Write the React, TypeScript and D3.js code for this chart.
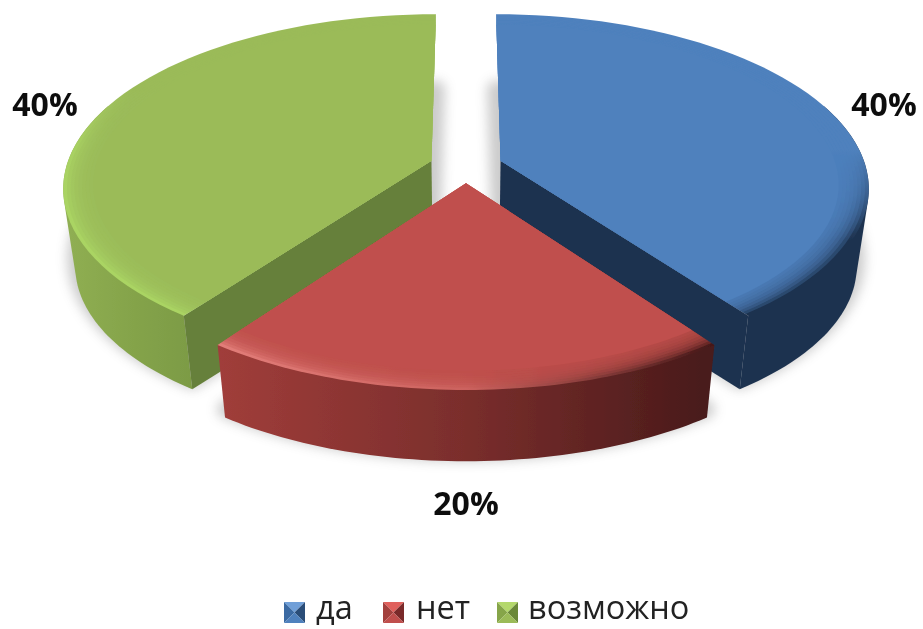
import React from "react";
import * as d3 from "d3";

const categories = ["да", "нет", "возможно"];
const values = [40, 20, 40];
const percentLabels = ["40%", "20%", "40%"];
const topColors = ["#4f81bd", "#c0504d", "#9bbb59"];
const sideColors = ["#1e3350", "#7a2e2c", "#66803a"];
const wallStops = [
  ["#1e3350", "#1e3350", "#1e3350"],
  ["#a03d3a", "#7a2e2c", "#481a1a"],
  ["#8fae52", "#84a34a", "#7b9a44"],
];
const rimStops = [
  ["#4f81bd", "#3a608f", "#1e3350"],
  ["#e27d79", "#cc625e", "#451818"],
  ["#9bbb59", "#a8d062", "#aad463"],
];
const legendShades = [
  ["#6f9fd8", "#3a6aa3", "#2a4d78", "#4f81bd"],
  ["#e0605c", "#a33f3c", "#7a2b29", "#c0504d"],
  ["#b4d86c", "#86a548", "#6b8838", "#9bbb59"],
];
const legendX = [284, 383, 497];
const legendTextX = [316, 416, 528];
const rimGradients = [
  { x1: 0, x2: 0, y1: 150, y2: 240 },
  { x1: 220, x2: 715, y1: 0, y2: 0 },
  { x1: 0, x2: 0, y1: 90, y2: 200 },
];
const wallGradients = [
  { x1: 70, x2: 200 },
  { x1: 220, x2: 710 },
  { x1: 70, x2: 200 },
];
// Parts of each slice's outer edge that face the viewer, in degrees clockwise from the top.
const wallFrom = [70, 144, 216];
const wallTo = [144, 216, 290];

const W = 923, H = 629;
const CX = 466, CY = 166, A = 365, B = 170, K = 0.15;
const EXPLODE = 0.1, DEPTH = 78, BASE_SCALE = 0.97;

type P = [number, number];
const project = (X: number, Y: number, s = 1, d = 0): P => {
  const den = 1 - K * Y;
  return [CX + (s * A * X) / den, CY + d + (s * B * Y) / den];
};

const pieGen = d3.pie<number>().sort(null).value((v) => v);
const line = d3.line<P>();
const rad = (deg: number) => (deg * Math.PI) / 180;

function App() {
  const arcs = pieGen(values);
  const geom = arcs.map((a, i) => {
    const mid = (a.startAngle + a.endAngle) / 2;
    const ex = EXPLODE * Math.sin(mid), ey = -EXPLODE * Math.cos(mid);
    const sweep = (from: number, to: number) => d3.range(0, 61).map((j) => from + ((to - from) * j) / 60);
    const thetas = sweep(a.startAngle, a.endAngle);
    const wallThetas = sweep(rad(wallFrom[i]), rad(wallTo[i]));
    const rimAt = (ts: number[], r: number, s = 1, d = 0) =>
      ts.map((t) => project(ex + r * Math.sin(t), ey - r * Math.cos(t), s, d));
    const apex = (s = 1, d = 0) => project(ex, ey, s, d);
    const face = (r: number, s = 1, d = 0) => line([apex(s, d), ...rimAt(thetas, r, s, d)])! + "Z";
    const hull = d3.polygonHull([...rimAt(wallThetas, 1), ...rimAt(wallThetas, 1, BASE_SCALE, DEPTH)])!;
    const outerWall = line(hull as P[])! + "Z";
    const radial = (t: number) => {
      const corner = (s: number, d: number) => project(ex + Math.sin(t), ey - Math.cos(t), s, d);
      return line([apex(), corner(1, 0), corner(BASE_SCALE, DEPTH), apex(BASE_SCALE, DEPTH)])! + "Z";
    };
    return { face, outerWall, radial, start: a.startAngle, end: a.endAngle };
  });
  const drawOrder = [0, 2, 1];
  const bands = d3.range(1, 9);

  return (
    <svg width={W} height={H} style={{ position: "absolute", left: 0, top: 0 }}>
      <defs>
        <filter id="soft" x="-20%" y="-20%" width="140%" height="140%">
          <feGaussianBlur stdDeviation="6" />
        </filter>
        <filter id="edge" x="-5%" y="-5%" width="110%" height="110%">
          <feGaussianBlur stdDeviation="0.7" />
        </filter>
        {categories.map((_, i) => (
          <React.Fragment key={i}>
            <linearGradient id={`wall${i}`} gradientUnits="userSpaceOnUse" {...wallGradients[i]} y1="0" y2="0">
              {wallStops[i].map((c, j) => <stop key={j} offset={j / 2} stopColor={c} />)}
            </linearGradient>
            <linearGradient id={`rim${i}`} gradientUnits="userSpaceOnUse" {...rimGradients[i]}>
              {rimStops[i].map((c, j) => <stop key={j} offset={j / 2} stopColor={c} />)}
            </linearGradient>
          </React.Fragment>
        ))}
      </defs>
      <rect width={W} height={H} fill="#ffffff" />
      <g filter="url(#soft)" opacity={0.38}>
        {geom.map((g, i) => (
          <path key={i} d={g.face(1, BASE_SCALE, DEPTH - 8)} fill="#777" stroke="#777" strokeWidth={16} strokeLinejoin="round" />
        ))}
      </g>
      <g filter="url(#edge)">
        {drawOrder.map((i) => {
          const g = geom[i];
          return (
            <g key={i}>
              <path d={g.outerWall} fill={`url(#wall${i})`} />
              {i === 0 && <path d={g.radial(g.end)} fill={sideColors[i]} />}
              {i === 2 && <path d={g.radial(g.start)} fill={sideColors[i]} />}
              <path d={g.face(1)} fill={`url(#rim${i})`} />
              {bands.map((k) => (
                <path key={k} d={g.face(1 - (0.08 * k) / 8)} fill={topColors[i]} fillOpacity={k === 8 ? 1 : 0.28} />
              ))}
            </g>
          );
        })}
        <g fontFamily="'Open Sans', sans-serif" fontWeight={700} fontSize={32} fill="#111" textAnchor="middle">
          <text x={884} y={116}>{percentLabels[0]}</text>
          <text x={466} y={515}>{percentLabels[1]}</text>
          <text x={45} y={116}>{percentLabels[2]}</text>
        </g>
        {categories.map((c, i) => {
          const x = legendX[i], y = 602, s = 21;
          const ctr: P = [x + s / 2, y + s / 2];
          const tl: P = [x, y], tr: P = [x + s, y], br: P = [x + s, y + s], bl: P = [x, y + s];
          const tris: P[][] = [[tl, tr, ctr], [tl, bl, ctr], [tr, br, ctr], [bl, br, ctr]];
          return (
            <g key={c}>
              {tris.map((t, j) => <path key={j} d={line(t)! + "Z"} fill={legendShades[i][j]} />)}
              <text x={legendTextX[i]} y={619} fontFamily="'Open Sans', sans-serif" fontSize={32.5} fill="#222">{c}</text>
            </g>
          );
        })}
      </g>
    </svg>
  );
}

export default App;
